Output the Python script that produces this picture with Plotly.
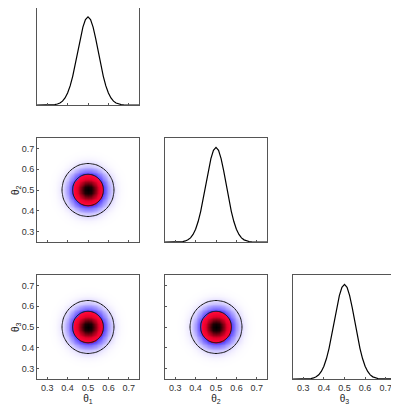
import plotly.graph_objects as go

# grid on each parameter axis and the (normalised) marginal density
theta = [round(0.25 + 0.0125 * i, 4) for i in range(41)]
marginal_half = [0.0, 0.00001, 0.00004, 0.00012, 0.00034, 0.00088, 0.0022, 0.0051,
                 0.0111, 0.0228, 0.0439, 0.0796, 0.1353, 0.2163, 0.3247, 0.4578,
                 0.6065, 0.7548, 0.8825, 0.9692]
marginal = marginal_half + [1.0] + marginal_half[::-1]

tick_vals = [0.3, 0.4, 0.5, 0.6, 0.7]
tick_text = ["0.3", "0.4", "0.5", "0.6", "0.7"]
labels = ["θ<sub>1</sub>", "θ<sub>2</sub>", "θ<sub>3</sub>"]
levels = [0.04, 0.32]  # 95% / 68% contours

cmap = [
    [0.0, "#ffffff"], [0.01, "#f8f6ff"], [0.04, "#e2dcff"], [0.12, "#a99fff"],
    [0.22, "#7868ff"], [0.31, "#5540f5"], [0.33, "#d0106a"], [0.36, "#ff0838"],
    [0.55, "#e8002a"], [0.75, "#900015"], [0.9, "#300005"], [1.0, "#000000"],
]

# the page body adds an 8px margin, so the figure is drawn 8px in from the corner
OFF = 8
W, H = 399 - OFF, 406 - OFF
col_px = [(37, 139), (165, 267), (293, 396)]
row_px = [(2, 105), (138, 242), (275, 379)]

grid = [[a * b for a in marginal] for b in marginal]

fig = go.Figure()
layout = dict(
    width=W, height=H, margin=dict(l=0, r=0, t=0, b=0),
    paper_bgcolor="white", plot_bgcolor="white", showlegend=False,
    font=dict(family="Liberation Sans, Arial", size=9, color="#222"),
    annotations=[],
)

ax_style = dict(showline=True, mirror=True, linecolor="#555", linewidth=1,
                showgrid=False, zeroline=False, ticks="inside", ticklen=2,
                tickcolor="#555", tickfont=dict(size=9, color="#333"))

n = 0
for r in range(3):
    for c in range(r + 1):
        n += 1
        xa = "x" if n == 1 else f"x{n}"
        ya = "y" if n == 1 else f"y{n}"
        xd = [(col_px[c][0] - OFF) / W, min(1, (col_px[c][1] - OFF) / W)]
        yd = [1 - (row_px[r][1] - OFF) / H, min(1, 1 - (row_px[r][0] - OFF) / H)]
        xaxis = dict(ax_style, domain=xd, anchor=ya, range=[0.25, 0.75],
                     tickvals=tick_vals, ticktext=tick_text,
                     showticklabels=(r == 2))
        if r == 2:
            xaxis["title"] = dict(text=labels[c], standoff=0, font=dict(size=10))
        if r == c:
            fig.add_trace(go.Scatter(x=theta, y=marginal, mode="lines",
                                     line=dict(color="black", width=1.2),
                                     xaxis=xa, yaxis=ya, hoverinfo="skip"))
            yaxis = dict(ax_style, domain=yd, anchor=xa, range=[0, 1.1],
                         showticklabels=False, ticks="")
        else:
            fig.add_trace(go.Heatmap(x=theta, y=theta, z=grid, zmin=0, zmax=1,
                                     colorscale=cmap, zsmooth="best",
                                     showscale=False, xaxis=xa, yaxis=ya,
                                     hoverinfo="skip"))
            fig.add_trace(go.Contour(x=theta, y=theta, z=grid, showscale=False,
                                     contours=dict(coloring="lines", start=levels[0],
                                                   end=levels[1],
                                                   size=levels[1] - levels[0]),
                                     colorscale=[[0, "#111"], [1, "#111"]],
                                     line=dict(width=1, smoothing=1.3),
                                     xaxis=xa, yaxis=ya, hoverinfo="skip"))
            yaxis = dict(ax_style, domain=yd, anchor=xa, range=[0.25, 0.75],
                         tickvals=tick_vals, ticktext=tick_text,
                         showticklabels=(c == 0))
            if c == 0:
                # y label sits at the far left of the page, outside the tick labels
                layout["annotations"].append(dict(
                    text=labels[r], textangle=-90, xref="paper", yref="paper",
                    x=0, xanchor="left", y=sum(yd) / 2, yanchor="middle",
                    showarrow=False, font=dict(size=10, color="#222")))
        layout["xaxis" if n == 1 else f"xaxis{n}"] = xaxis
        layout["yaxis" if n == 1 else f"yaxis{n}"] = yaxis

fig.update_layout(**layout)
fig.write_html("out.html")
